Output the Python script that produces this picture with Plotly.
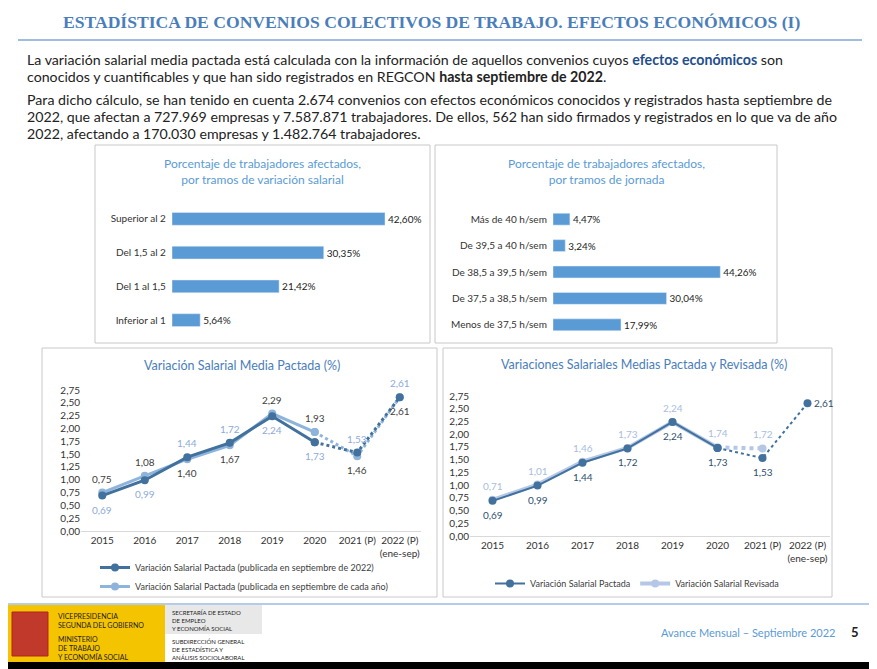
import plotly.graph_objects as go

W, H = 877, 669
OFF = 8  # default page body margin
def px(x): return (x - OFF) / W
def py(y): return 1 - (y - OFF) / H

tramos_sal = ["Inferior al 1", "Del 1 al 1,5", "Del 1,5 al 2", "Superior al 2"]
tramos_sal_val = [5.64, 21.42, 30.35, 42.60]
tramos_jor = ["Menos de 37,5 h/sem", "De 37,5 a 38,5 h/sem", "De 38,5 a 39,5 h/sem", "De 39,5 a 40 h/sem", "Más de 40 h/sem"]
tramos_jor_val = [17.99, 30.04, 44.26, 3.24, 4.47]
years = ["2015", "2016", "2017", "2018", "2019", "2020", "2021 (P)", "2022 (P)<br>(ene-sep)"]
pact_sep22 = [0.69, 0.99, 1.44, 1.72, 2.24, 1.73, 1.53, 2.61]
pact_cada = [0.75, 1.08, 1.40, 1.67, 2.29, 1.93, 1.46, 2.61]
pactada = [0.69, 0.99, 1.44, 1.72, 2.24, 1.73, 1.53, 2.61]
revisada = [0.71, 1.01, 1.46, 1.73, 2.24, 1.74, 1.72]

DARK = "#41719c"; LIGHT = "#8fb4dc"; REV = "#b4c7e7"; BAR = "#5b9bd5"
fig = go.Figure()
F = "Lato"
idx = list(range(len(years)))

fig.add_trace(go.Bar(y=tramos_sal, x=tramos_sal_val, orientation="h", marker_color=BAR, width=0.38,
                     text=[f"{v:.2f}%".replace(".", ",") for v in tramos_sal_val], textposition="outside",
                     textfont=dict(size=10, color="#222", family=F), cliponaxis=False, showlegend=False,
                     xaxis="x", yaxis="y"))
fig.add_trace(go.Bar(y=tramos_jor, x=tramos_jor_val, orientation="h", marker_color=BAR, width=0.45,
                     text=[f"{v:.2f}%".replace(".", ",") for v in tramos_jor_val], textposition="outside",
                     textfont=dict(size=10, color="#222", family=F), cliponaxis=False, showlegend=False,
                     xaxis="x2", yaxis="y2"))

def fmt(v): return f"{v:.2f}".replace(".", ",")

def line_series(vals, color, width, name, xa, ya, legend, labpos, labcolor, solid_end):
    n = len(vals)
    fig.add_trace(go.Scatter(x=idx[solid_end:n], y=vals[solid_end:n], mode="lines+markers",
                             line=dict(color=color, width=width, dash="dot"), marker=dict(size=8, color=color),
                             showlegend=False, xaxis=xa, yaxis=ya, cliponaxis=False))
    fig.add_trace(go.Scatter(x=idx[:solid_end + 1], y=vals[:solid_end + 1], mode="lines+markers",
                             line=dict(color=color, width=width), marker=dict(size=8, color=color),
                             name=name, legend=legend, showlegend=True, xaxis=xa, yaxis=ya, cliponaxis=False))
    for i, v in enumerate(vals):
        pos = labpos[i]
        yshift = 14 if pos == "a" else (-14 if pos == "b" else 0)
        xshift = 16 if pos == "r" else 0
        fig.add_annotation(x=i, y=v, xref=xa, yref=ya, text=fmt(v), showarrow=False,
                           yshift=yshift, xshift=xshift, font=dict(size=10, color=labcolor, family=F))

line_series(pact_cada, LIGHT, 3, "Variación Salarial Pactada (publicada en septiembre de cada año)", "x3", "y3", "legend",
            ["a", "a", "b", "b", "a", "a", "b", "b"], "#404040", 5)
line_series(pact_sep22, DARK, 3, "Variación Salarial Pactada (publicada en septiembre de 2022)", "x3", "y3", "legend",
            ["b", "b", "a", "a", "b", "b", "a", "a"], "#8eaadb", 5)
line_series(revisada, REV, 4, "Variación Salarial Revisada", "x4", "y4", "legend2",
            ["a"] * 7, "#a9bddf", 5)
line_series(pactada, DARK, 2, "Variación Salarial Pactada", "x4", "y4", "legend2",
            ["b", "b", "b", "b", "b", "b", "b", "r"], "#2f4f6f", 5)

tick = dict(size=10, color="#333", family=F)
xcommon = dict(tickvals=idx, ticktext=years, range=[-0.5, 7.5], showline=True, linecolor="#d9d9d9",
               tickfont=tick, ticks="", showgrid=False, zeroline=False, automargin=False)
ycommon = dict(range=[0, 2.75], dtick=0.25, tickformat=".2f", showgrid=False, zeroline=False, tickfont=tick,
               automargin=False)
fig.update_layout(
    width=W, height=H, margin=dict(l=0, r=0, t=0, b=0, autoexpand=False), paper_bgcolor="white",
    plot_bgcolor="rgba(0,0,0,0)", separators=",.",
    xaxis=dict(domain=[px(172), px(422)], range=[0, 50], visible=False),
    yaxis=dict(domain=[py(337), py(202)], anchor="x", showline=False, ticks="", tickfont=tick, ticksuffix="  ",
               automargin=False),
    xaxis2=dict(domain=[px(553), px(742)], range=[0, 50], visible=False),
    yaxis2=dict(domain=[py(338), py(206)], anchor="x2", showline=False, ticks="", tickfont=tick, ticksuffix="  ",
                automargin=False),
    xaxis3=dict(domain=[px(81), px(421)], anchor="y3", **xcommon),
    yaxis3=dict(domain=[py(531), py(390)], anchor="x3", **ycommon),
    xaxis4=dict(domain=[px(470), px(830)], anchor="y4", **xcommon),
    yaxis4=dict(domain=[py(536), py(396)], anchor="x4", **ycommon),
    legend=dict(x=px(95), y=py(553), xanchor="left", yanchor="top", orientation="v", traceorder="reversed",
                font=dict(size=9, color="#404040", family=F), bgcolor="rgba(0,0,0,0)", tracegroupgap=2),
    legend2=dict(x=px(490), y=py(569), xanchor="left", yanchor="top", orientation="h", traceorder="reversed",
                 font=dict(size=9, color="#404040", family=F), bgcolor="rgba(0,0,0,0)"),
)

shapes = []
def rect(x0, y0, x1, y1, line="#c8c8c8", fill=None, lw=1):
    shapes.append(dict(type="rect", xref="paper", yref="paper", x0=px(x0), x1=px(x1), y0=py(y1), y1=py(y0),
                       line=dict(color=line, width=lw), fillcolor=fill, layer="below"))
rect(95, 145, 430, 343); rect(435, 145, 777, 343)
rect(42, 348, 437, 597); rect(443, 348, 832, 597)
shapes.append(dict(type="line", xref="paper", yref="paper", x0=px(18), x1=px(862), y0=py(40), y1=py(40),
                   line=dict(color="#7fa7d6", width=1.5)))
shapes.append(dict(type="line", xref="paper", yref="paper", x0=px(8), x1=1, y0=py(604), y1=py(604),
                   line=dict(color="#9dbbe0", width=1.5)))
rect(8, 605, 165, 662, line="rgba(0,0,0,0)", fill="#f5c400")
rect(165, 605, 262, 634, line="rgba(0,0,0,0)", fill="#e8e8e8")
rect(8, 662, 885, 677, line="rgba(0,0,0,0)", fill="black")
rect(12, 612, 48, 656, line="#b22222", fill="#c0392b")
fig.update_layout(shapes=shapes)

def txt(x, y, s, size=13, color="#222", anchor="left", fam=F):
    fig.add_annotation(x=px(x), y=py(y), xref="paper", yref="paper", text=s, showarrow=False,
                       xanchor=anchor, yanchor="middle", align=anchor, font=dict(size=size, color=color, family=fam))

txt(431, 22, "<b>ESTADÍSTICA DE CONVENIOS COLECTIVOS DE TRABAJO. EFECTOS ECONÓMICOS (I)</b>", 17.6, "#4a7ebb", "center",
    "Liberation Serif")
lines = [
    (59, "La variación salarial media pactada está calculada con la información de aquellos convenios cuyos <b><span style='color:#1f4e8c'>efectos económicos</span></b> son"),
    (77, "conocidos y cuantificables y que han sido registrados en REGCON <b>hasta septiembre de 2022</b>."),
    (99, "Para dicho cálculo, se han tenido en cuenta 2.674 convenios con efectos económicos conocidos y registrados hasta septiembre de"),
    (116, "2022, que afectan a 727.969 empresas y 7.587.871 trabajadores. De ellos, 562 han sido firmados y registrados en lo que va de año"),
    (134, "2022, afectando a 170.030 empresas y 1.482.764 trabajadores."),
]
for y, s in lines:
    txt(25, y, s, 14.2, "#222")
txt(262, 172, "Porcentaje de trabajadores afectados,<br>por tramos de variación salarial", 12, BAR, "center")
txt(606, 172, "Porcentaje de trabajadores afectados,<br>por tramos de jornada", 12, BAR, "center")
txt(242, 366, "Variación Salarial Media Pactada (%)", 12.5, "#4a7ebb", "center")
txt(644, 364, "Variaciones Salariales Medias Pactada y Revisada (%)", 12.5, "#4a7ebb", "center")
txt(56, 620, "VICEPRESIDENCIA<br>SEGUNDA DEL GOBIERNO", 7, "#222")
txt(56, 648, "MINISTERIO<br>DE TRABAJO<br>Y ECONOMÍA SOCIAL", 7, "#222")
txt(170, 620, "SECRETARÍA DE ESTADO<br>DE EMPLEO<br>Y ECONOMÍA SOCIAL", 6, "#222")
txt(170, 649, "SUBDIRECCIÓN GENERAL<br>DE ESTADÍSTICA Y<br>ANÁLISIS SOCIOLABORAL", 6, "#222")
txt(837, 632, "Avance Mensual – Septiembre 2022", 11, BAR, "right")
txt(855, 632, "<b>5</b>", 13, "#222", "center")

fig.write_html("out.html")
